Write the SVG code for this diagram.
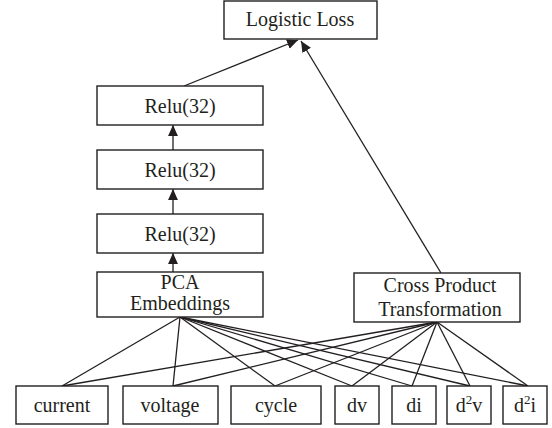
<svg xmlns="http://www.w3.org/2000/svg" width="552" height="428" viewBox="0 0 552 428">
<style>
.box{fill:#fff;stroke:#231f20;stroke-width:1.4}
.t{font-family:"Liberation Serif","Times New Roman",serif;font-size:20px;fill:#231f20;text-anchor:middle}
.ln{stroke:#231f20;stroke-width:1.3;fill:none}
.ar{stroke:#231f20;stroke-width:1.3;fill:none;marker-end:url(#ah)}
</style>
<defs>
<marker id="ah" viewBox="0 0 10 10" refX="10" refY="5" markerWidth="11" markerHeight="11" markerUnits="userSpaceOnUse" orient="auto">
<path d="M0,0.5 L10,5 L0,9.5 Z" fill="#231f20"/>
</marker>
</defs>
<rect width="552" height="428" fill="#fff"/>
<g id="connectors">
<line class="ar" x1="184" y1="86" x2="298" y2="40"/>
<line class="ar" x1="441" y1="273" x2="301" y2="41"/>
<line class="ar" x1="173" y1="150" x2="173" y2="125"/>
<line class="ar" x1="173" y1="214" x2="173" y2="189"/>
<line class="ar" x1="173" y1="272" x2="173" y2="253"/>
<g class="ln">
<line x1="180" y1="317" x2="62" y2="386"/>
<line x1="180" y1="317" x2="173" y2="386"/>
<line x1="180" y1="317" x2="275" y2="386"/>
<line x1="180" y1="317" x2="352" y2="386"/>
<line x1="180" y1="317" x2="412" y2="386"/>
<line x1="180" y1="317" x2="470" y2="386"/>
<line x1="180" y1="317" x2="528" y2="386"/>
<line x1="437" y1="322" x2="62" y2="386"/>
<line x1="437" y1="322" x2="173" y2="386"/>
<line x1="437" y1="322" x2="275" y2="386"/>
<line x1="437" y1="322" x2="352" y2="386"/>
<line x1="437" y1="322" x2="412" y2="386"/>
<line x1="437" y1="322" x2="470" y2="386"/>
<line x1="437" y1="322" x2="528" y2="386"/>
</g>
</g>
<g id="logistic"><rect class="box" x="224" y="1" width="153" height="38"/><text class="t" x="300" y="26">Logistic Loss</text></g>
<g id="relu1"><rect class="box" x="97" y="86" width="166" height="39"/><text class="t" x="180" y="113">Relu(32)</text></g>
<g id="relu2"><rect class="box" x="97" y="150" width="166" height="39"/><text class="t" x="180" y="177">Relu(32)</text></g>
<g id="relu3"><rect class="box" x="97" y="214" width="166" height="39"/><text class="t" x="180" y="241">Relu(32)</text></g>
<g id="pca"><rect class="box" x="97" y="272" width="166" height="45"/><text class="t" x="180" y="289" font-size="18">PCA</text><text class="t" x="180" y="309.5" font-size="18">Embeddings</text></g>
<g id="cross"><rect class="box" x="354" y="273" width="166" height="49"/><text class="t" x="440" y="292">Cross Product</text><text class="t" x="440" y="316">Transformation</text></g>
<g id="current"><rect class="box" x="16" y="386" width="92" height="38"/><text class="t" x="62" y="412">current</text></g>
<g id="voltage"><rect class="box" x="123" y="386" width="95" height="38"/><text class="t" x="170" y="412">voltage</text></g>
<g id="cycle"><rect class="box" x="231" y="386" width="90" height="38"/><text class="t" x="276" y="412">cycle</text></g>
<g id="dv"><rect class="box" x="335" y="386" width="44" height="38"/><text class="t" x="357" y="412">dv</text></g>
<g id="di"><rect class="box" x="392" y="386" width="44" height="38"/><text class="t" x="414" y="412">di</text></g>
<g id="d2v"><rect class="box" x="447" y="386" width="44" height="38"/><text class="t" x="469" y="412">d<tspan font-size="13" dy="-8">2</tspan><tspan dy="8">v</tspan></text></g>
<g id="d2i"><rect class="box" x="503" y="386" width="44" height="38"/><text class="t" x="525" y="412">d<tspan font-size="13" dy="-8">2</tspan><tspan dy="8">i</tspan></text></g>
</svg>
